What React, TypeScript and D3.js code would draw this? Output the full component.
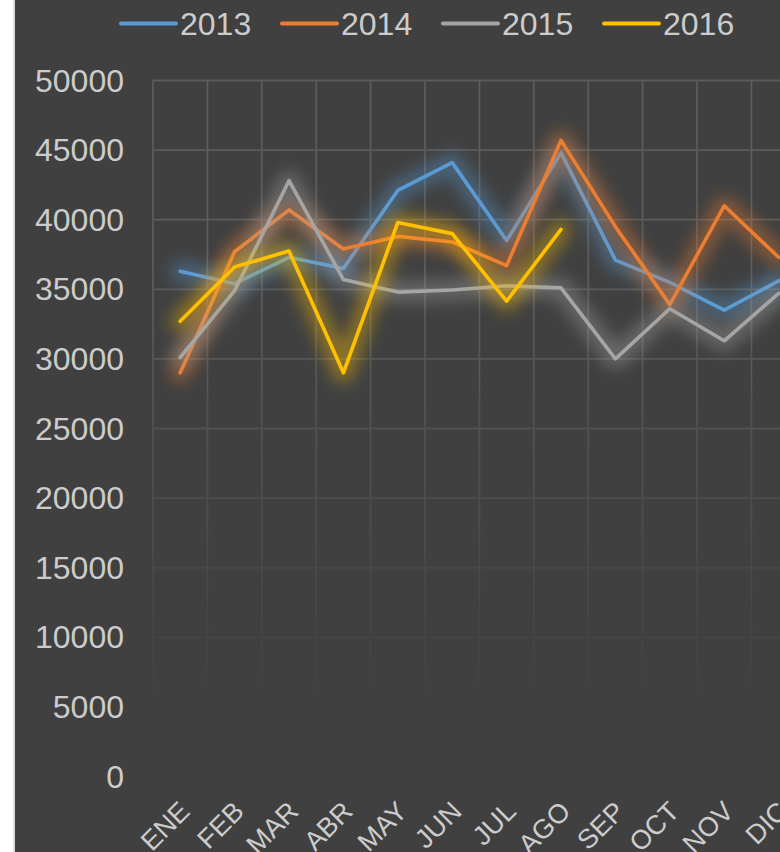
import * as React from 'react'
import * as d3 from 'd3'

const months = ['ENE', 'FEB', 'MAR', 'ABR', 'MAY', 'JUN', 'JUL', 'AGO', 'SEP', 'OCT', 'NOV', 'DIC']
const yTicks = [0, 5000, 10000, 15000, 20000, 25000, 30000, 35000, 40000, 45000, 50000]

const s2013 = [36300, 35400, 37300, 36500, 42100, 44100, 38500, 44800, 37100, 35500, 33500, 35600]
const s2014 = [29000, 37700, 40700, 37900, 38800, 38400, 36700, 45700, 39500, 33900, 41000, 37300]
const s2015 = [30100, 34900, 42800, 35700, 34800, 34950, 35250, 35100, 30000, 33600, 31300, 34700]
const s2016 = [32700, 36600, 37750, 29000, 39800, 39000, 34150, 39300]

const series = [
    { name: '2013', color: '#5b9bd5', values: s2013 },
    { name: '2014', color: '#ed7d31', values: s2014 },
    { name: '2015', color: '#a5a5a5', values: s2015 },
    { name: '2016', color: '#ffc000', values: s2016 },
]

export default function App() {
    const W = 780
    const H = 852
    const LEFT = 153
    const STEP = 54.4
    const TOP = 80.5
    const BOTTOM = 776.5
    const TEXT = '#cccccc'
    const FONT = '"Liberation Sans", Arial, sans-serif'

    const x = d3.scaleBand().domain(months).range([LEFT, LEFT + STEP * months.length])
    const y = d3.scaleLinear().domain([0, 50000]).range([BOTTOM, TOP])
    const cx = (m: string) => (x(m) as number) + x.bandwidth() / 2

    const line = d3.line<number>()
        .x((_, i) => cx(months[i]))
        .y(d => y(d))

    const xRight = LEFT + STEP * months.length

    return <svg width={W} height={H} style={{ position: 'absolute', left: 0, top: 0 }}>
        <defs>
            <filter id="glow" x="-20%" y="-40%" width="140%" height="180%">
                <feGaussianBlur stdDeviation="8" />
            </filter>
            <linearGradient id="fade" gradientUnits="userSpaceOnUse" x1="0" y1="280" x2="0" y2="720">
                <stop offset="0" stopColor="#fff" />
                <stop offset="1" stopColor="#000" />
            </linearGradient>
            <mask id="gridMask" maskUnits="userSpaceOnUse" x="0" y="0" width={W} height={H}>
                <rect x={0} y={0} width={W} height={H} fill="url(#fade)" />
            </mask>
        </defs>

        <rect x={0} y={0} width={W} height={H} fill="#ffffff" />
        <rect x={13} y={0} width={2} height={H} fill="#dcdcdc" />
        <rect x={15} y={0} width={W - 15} height={H} fill="#404040" />

        <g mask="url(#gridMask)" stroke="#5b5b5b" strokeWidth={1.8}>
            {yTicks.filter(t => t > 0).map(t =>
                <line key={t} x1={LEFT} x2={xRight} y1={y(t)} y2={y(t)} />
            )}
            {months.map(m =>
                <line key={m} x1={x(m) as number} x2={x(m) as number} y1={TOP} y2={BOTTOM} />
            )}
        </g>

        <g fontFamily={FONT} fontSize={32} fill={TEXT}>
            {yTicks.map(t =>
                <text key={t} x={124} y={y(t)} textAnchor="end" dominantBaseline="central">{t}</text>
            )}
        </g>

        <g fontFamily={FONT} fontSize={27} fill={TEXT}>
            {months.map(m =>
                <text key={m} textAnchor="end" transform={`translate(${cx(m) + 11} ${813}) rotate(-45)`}>{m}</text>
            )}
        </g>

        {series.map(s =>
            <g key={s.name}>
                <path d={line(s.values) as string} fill="none" stroke={s.color} strokeWidth={20}
                    strokeOpacity={0.4} strokeLinejoin="round" strokeLinecap="round" filter="url(#glow)" />
                <path d={line(s.values) as string} fill="none" stroke={s.color} strokeWidth={3.6}
                    strokeLinejoin="round" strokeLinecap="round" />
            </g>
        )}

        <g fontFamily={FONT} fontSize={32} fill={TEXT}>
            {series.map((s, i) =>
                <g key={s.name} transform={`translate(${121 + i * 161} 23.5)`}>
                    <line x1={0} x2={55} stroke={s.color} strokeWidth={4} strokeLinecap="round" />
                    <text x={59} y={0} dominantBaseline="central">{s.name}</text>
                </g>
            )}
        </g>
    </svg>
}
